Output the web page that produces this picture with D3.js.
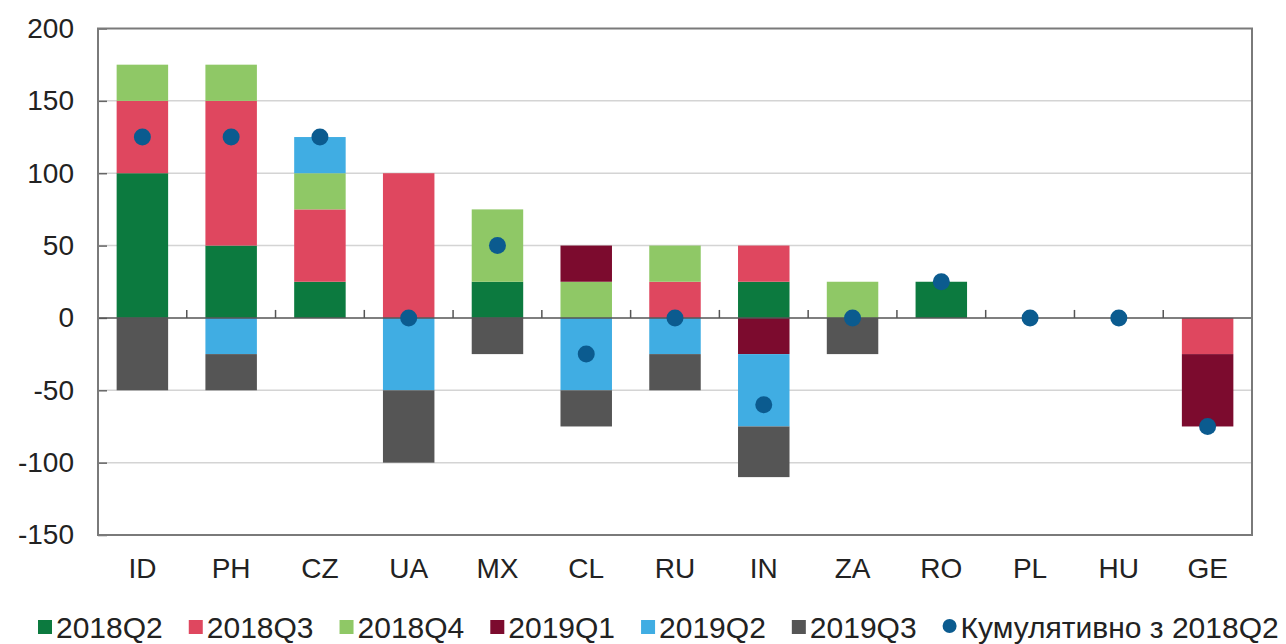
<!DOCTYPE html>
<html lang="uk">
<head>
    <meta charset="UTF-8">
    <script src="https://d3js.org/d3.v7.min.js"></script>
    <title>Stacked changes</title>
    <style>
      body { margin: 0; background: #fff; }
      text { font-family: "Liberation Sans", Arial, sans-serif; fill: #222; }
    </style>
</head>
<body>
    <div id="chart"></div>
<script>

// data
var categories = ["ID", "PH", "CZ", "UA", "MX", "CL", "RU", "IN", "ZA", "RO", "PL", "HU", "GE"];
var seriesNames = ["2018Q2", "2018Q3", "2018Q4", "2019Q1", "2019Q2", "2019Q3"];
var q2_2018 = [100, 50, 25, 0, 25, 0, 0, 25, 0, 25, 0, 0, 0];
var q3_2018 = [50, 100, 50, 100, 0, 0, 25, 25, 0, 0, 0, 0, -25];
var q4_2018 = [25, 25, 25, 0, 50, 25, 25, 0, 25, 0, 0, 0, 0];
var q1_2019 = [0, 0, 0, 0, 0, 25, 0, -25, 0, 0, 0, 0, -50];
var q2_2019 = [0, -25, 25, -50, 0, -50, -25, -50, 0, 0, 0, 0, 0];
var q3_2019 = [-50, -25, 0, -50, -25, -25, -25, -35, -25, 0, 0, 0, 0];
var cumulative = [125, 125, 125, 0, 50, -25, 0, -60, 0, 25, 0, 0, -75];
var yTicks = [200, 150, 100, 50, 0, -50, -100, -150];
var cumulativeLabel = "Кумулятивно з 2018Q2";

var seriesValues = [q2_2018, q3_2018, q4_2018, q1_2019, q2_2019, q3_2019];
var colors = ["#0c7a3f", "#df475f", "#8fc866", "#7c0b2e", "#40ade3", "#555555"];
var dotColor = "#0b5b8f";

// table for d3.stack
var table = categories.map(function(c, i) {
  var row = {cat: c};
  seriesNames.forEach(function(s, j) { row[s] = seriesValues[j][i]; });
  return row;
});

var W = 1286, H = 644;
var plotLeft = 98, plotRight = 1252, plotTop = 28.5, plotBottom = 535;

var svg = d3.select("#chart")
  .append("svg")
    .attr("width", W)
    .attr("height", H);

var x = d3.scaleBand()
  .domain(categories)
  .range([plotLeft, plotRight])
  .paddingInner(0.42)
  .paddingOuter(0.21);

var y = d3.scaleLinear()
  .domain([-150, 200])
  .range([plotBottom, plotTop]);

// gridlines
svg.append("g")
  .selectAll("line")
  .data(yTicks.filter(function(t) { return t != 0 && t != 200 && t != -150; }))
  .enter()
  .append("line")
    .attr("x1", plotLeft).attr("x2", plotRight)
    .attr("y1", function(d) { return y(d); })
    .attr("y2", function(d) { return y(d); })
    .style("stroke", "#d4d4d4")
    .style("stroke-width", 1.5);

// y axis
var yAxis = svg.append("g")
  .attr("transform", "translate(" + plotLeft + ",0)")
  .call(d3.axisLeft(y).tickValues(yTicks).tickSize(-9).tickPadding(24)
    .tickFormat(function(d) { return String(d); }));
yAxis.select(".domain").remove();
yAxis.selectAll("line").style("stroke", "#666").style("stroke-width", 1.5);
yAxis.selectAll("text")
  .style("font-size", "28px")
  .style("font-family", "Liberation Sans, Arial, sans-serif")
  .attr("fill", "#222");

// stacked bars
var stack = d3.stack()
  .keys(seriesNames)
  .offset(d3.stackOffsetDiverging);
var stacked = stack(table);

svg.append("g")
  .selectAll("g")
  .data(stacked)
  .enter()
  .append("g")
    .attr("fill", function(d, i) { return colors[i]; })
  .selectAll("rect")
  .data(function(d) { return d; })
  .enter()
  .append("rect")
    .attr("x", function(d) { return x(d.data.cat); })
    .attr("y", function(d) { return y(Math.max(d[0], d[1])); })
    .attr("width", x.bandwidth())
    .attr("height", function(d) { return Math.abs(y(d[0]) - y(d[1])); });

// zero line with category ticks
svg.append("line")
  .attr("x1", plotLeft).attr("x2", plotRight)
  .attr("y1", y(0)).attr("y2", y(0))
  .style("stroke", "#555")
  .style("stroke-width", 1.5);

svg.append("g")
  .selectAll("line")
  .data(categories.slice(1))
  .enter()
  .append("line")
    .attr("x1", function(d) { return x(d) - x.step() * x.paddingInner() / 2; })
    .attr("x2", function(d) { return x(d) - x.step() * x.paddingInner() / 2; })
    .attr("y1", y(0)).attr("y2", y(0) - 8)
    .style("stroke", "#555")
    .style("stroke-width", 1.5);

// x labels
svg.append("g")
  .selectAll("text")
  .data(categories)
  .enter()
  .append("text")
    .attr("x", function(d) { return x(d) + x.bandwidth() / 2; })
    .attr("y", 578)
    .attr("text-anchor", "middle")
    .style("font-size", "28px")
    .text(function(d) { return d; });

// cumulative dots
svg.append("g")
  .selectAll("circle")
  .data(cumulative)
  .enter()
  .append("circle")
    .attr("cx", function(d, i) { return x(categories[i]) + x.bandwidth() / 2; })
    .attr("cy", function(d) { return y(d); })
    .attr("r", 8.5)
    .attr("fill", dotColor);

// frame
svg.append("rect")
  .attr("x", plotLeft).attr("y", plotTop)
  .attr("width", plotRight - plotLeft).attr("height", plotBottom - plotTop)
  .attr("fill", "none")
  .style("stroke", "#7a7a7a")
  .style("stroke-width", 2);

// legend
var legend = svg.append("g");
var lx = 38, ly = 627;
var items = seriesNames.map(function(s, i) { return {name: s, color: colors[i], dot: false}; });
items.push({name: cumulativeLabel, color: dotColor, dot: true});
items.forEach(function(it) {
  if (it.dot) {
    legend.append("circle").attr("cx", lx + 7).attr("cy", ly - 1).attr("r", 7).attr("fill", it.color);
  } else {
    legend.append("rect").attr("x", lx).attr("y", ly - 7).attr("width", 14).attr("height", 14).attr("fill", it.color);
  }
  var t = legend.append("text")
    .attr("x", lx + 18)
    .attr("y", ly + 11)
    .style("font-size", "30px")
    .text(it.name);
  lx = lx + 18 + t.node().getComputedTextLength() + 26;
});

</script>
</body>
</html>
